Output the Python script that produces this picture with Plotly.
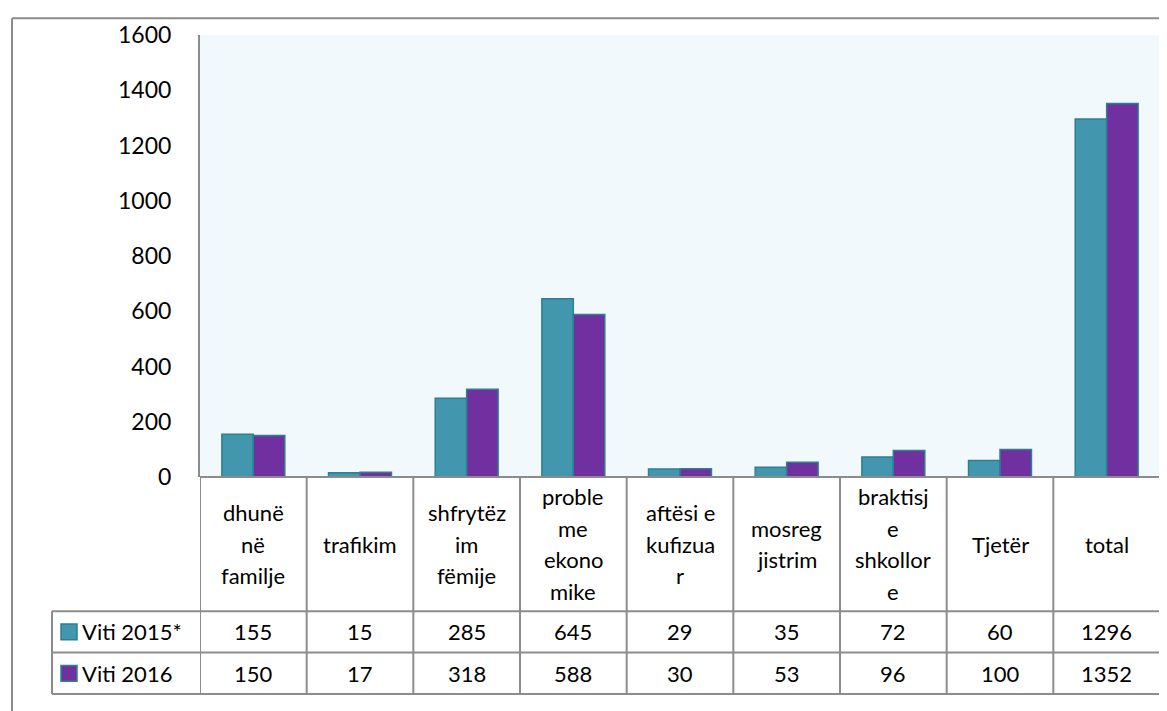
import plotly.graph_objects as go

categories = ["dhunë<br>në<br>familje", "trafikim", "shfrytëz<br>im<br>fëmije",
              "proble<br>me<br>ekono<br>mike", "aftësi e<br>kufizua<br>r",
              "mosreg<br>jistrim", "braktisj<br>e<br>shkollor<br>e", "Tjetër", "total"]
series_names = ["Viti 2015*", "Viti 2016"]
values_2015 = [155, 15, 285, 645, 29, 35, 72, 60, 1296]
values_2016 = [150, 17, 318, 588, 30, 53, 96, 100, 1352]
y_ticks = [0, 200, 400, 600, 800, 1000, 1200, 1400, 1600]

# page body has an 8px margin; all pixel coordinates below are screen coords
OFF = 8
W, H = 1167, 711
PL, PR, PT, PB = 200, 1160, 29, 477  # plot area on screen
L, R, T, B = PL - OFF, W - (PR - OFF), PT - OFF, H - (PB - OFF)
PW = PR - PL
PH = PB - PT
FONT = "Lato"
FS = 22
GRID = "#8C8C8C"
TEAL = "#4297AF"
TEAL_EDGE = "#2F7E92"
PURPLE = "#7030A0"


def py(pix):  # screen y -> paper y
    return (PB - pix) / PH


def px(pix):  # screen x -> paper x
    return (pix - PL) / PW


n = len(categories)
xs = list(range(n))

fig = go.Figure()
fig.add_trace(go.Bar(x=xs, y=values_2015, name=series_names[0],
                     marker=dict(color=TEAL, line=dict(color=TEAL_EDGE, width=1.5))))
fig.add_trace(go.Bar(x=xs, y=values_2016, name=series_names[1],
                     marker=dict(color=PURPLE, line=dict(color=TEAL_EDGE, width=1.5))))

shapes = []
line = dict(color=GRID, width=2)
# outer frame
shapes.append(dict(type="line", xref="paper", yref="paper", x0=px(12), x1=px(1175),
                   y0=py(12), y1=py(12), line=line))
shapes.append(dict(type="line", xref="paper", yref="paper", x0=px(12), x1=px(12),
                   y0=py(12), y1=py(720), line=line))
# table horizontal lines
shapes.append(dict(type="line", xref="paper", yref="paper", x0=0, x1=1,
                   y0=0, y1=0, line=line))
for yy in [613, 655, 697]:
    shapes.append(dict(type="line", xref="paper", yref="paper", x0=px(52), x1=1,
                       y0=py(yy), y1=py(yy), line=line))
# table vertical lines
for k in range(n + 1):
    shapes.append(dict(type="line", xref="x", yref="paper", x0=k - 0.5, x1=k - 0.5,
                       y0=0, y1=py(697), line=line))
shapes.append(dict(type="line", xref="paper", yref="paper", x0=px(52), x1=px(52),
                   y0=py(613), y1=py(697), line=line))
# legend keys
for row_y, col in [(634, TEAL), (676, PURPLE)]:
    shapes.append(dict(type="rect", xref="paper", yref="paper",
                       x0=px(61), x1=px(77), y0=py(row_y - 8), y1=py(row_y + 8),
                       fillcolor=col, line=dict(color=TEAL_EDGE, width=1.5)))

ann = []
tf = dict(family=FONT, size=FS, color="black")
header_center = 545
line_sp = 32
for i, cat in enumerate(categories):
    parts = cat.split("<br>")
    m = len(parts)
    for j, p in enumerate(parts):
        yc = header_center + (j - (m - 1) / 2) * line_sp
        ann.append(dict(x=i, xref="x", y=py(yc), yref="paper", text=p, showarrow=False,
                        font=tf, xanchor="center", yanchor="middle"))
for row_y, vals in [(634, values_2015), (676, values_2016)]:
    for i, v in enumerate(vals):
        ann.append(dict(x=i, xref="x", y=py(row_y), yref="paper", text=str(v), showarrow=False,
                        font=tf, xanchor="center", yanchor="middle"))
for row_y, name in [(634, series_names[0]), (676, series_names[1])]:
    ann.append(dict(x=px(80), xref="paper", y=py(row_y), yref="paper", text=name, showarrow=False,
                    font=tf, xanchor="left", yanchor="middle"))

fig.update_layout(
    width=W, height=H,
    margin=dict(l=L, r=R, t=T, b=B),
    paper_bgcolor="white",
    plot_bgcolor="#F2F9FD",
    barmode="group", bargap=0.41, bargroupgap=0,
    showlegend=False,
    shapes=shapes,
    annotations=ann,
    xaxis=dict(range=[-0.5, n - 0.5], showticklabels=False, showgrid=False,
               zeroline=False, showline=False, ticks=""),
    yaxis=dict(range=[0, 1600], tickvals=y_ticks, showgrid=False, zeroline=False,
               showline=True, linecolor=GRID, linewidth=2, ticks="",
               ticklabelstandoff=22, tickfont=dict(family=FONT, size=FS + 1, color="black")),
)

fig.write_html("out.html")
